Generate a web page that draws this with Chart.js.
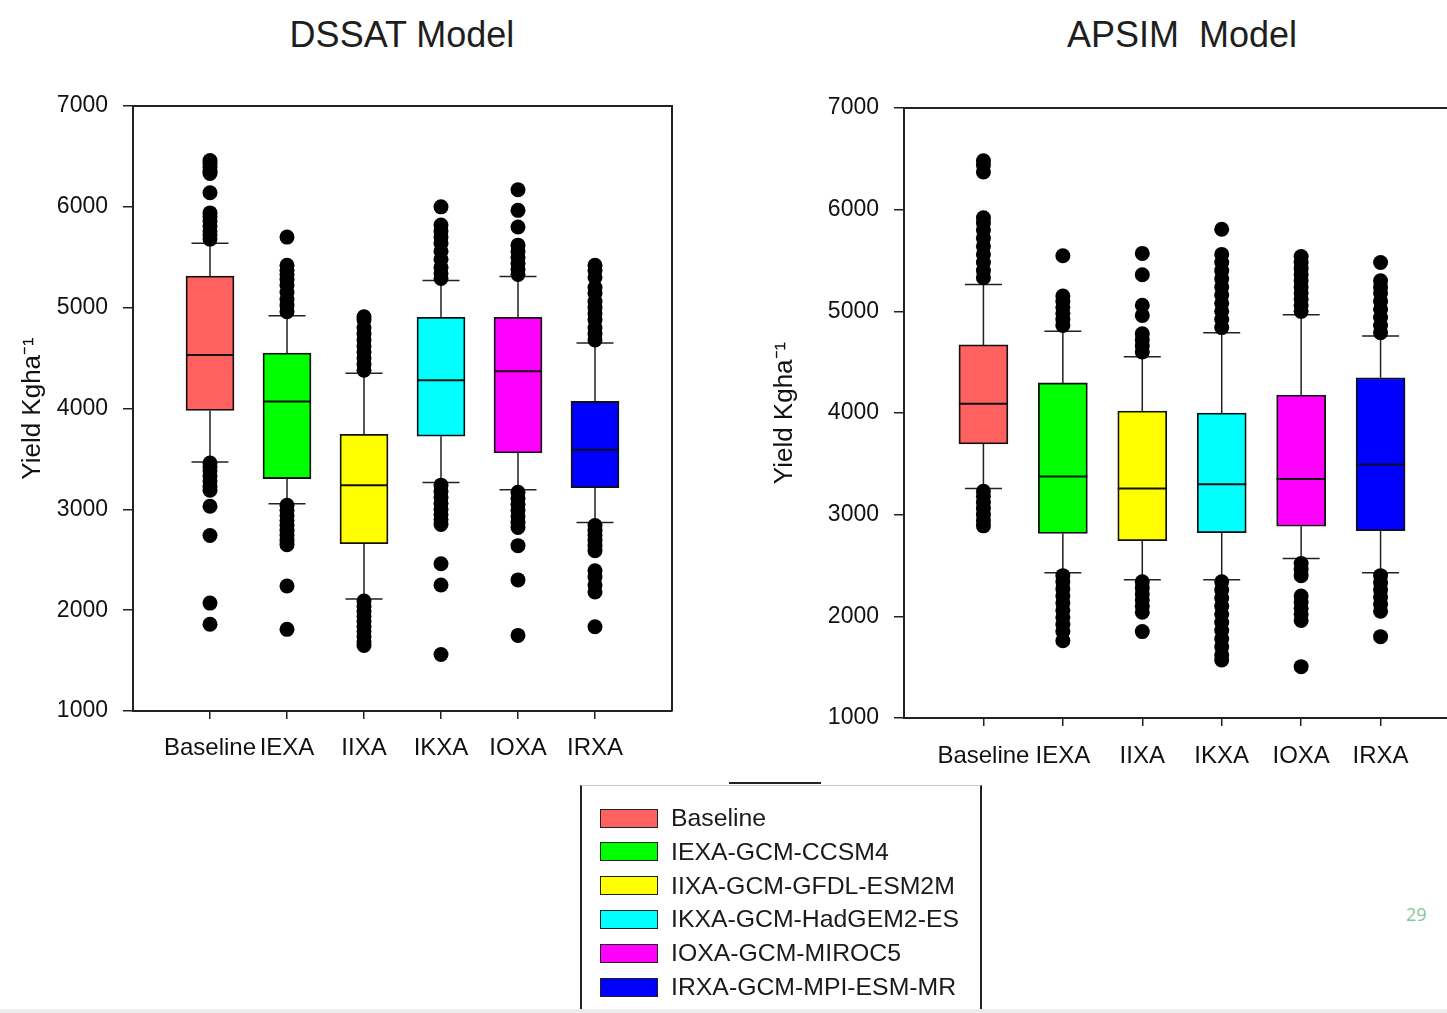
<!DOCTYPE html>
<html>
<head>
<meta charset="utf-8">
<script src="https://cdn.jsdelivr.net/npm/chart.js@4.4.1/dist/chart.umd.min.js"></script>
<style>
  html, body { margin: 0; padding: 0; width: 1447px; height: 1013px; overflow: hidden; background: #fff; }
  body { position: relative; font-family: "Liberation Sans", Arial, sans-serif; color: #1a1a1a; }
  canvas { position: absolute; }
  #dssat { left: 0; top: 60px; }
  #apsim { left: 760px; top: 60px; }
  .title { position: absolute; top: 14px; font-size: 36px; white-space: pre; transform: translateX(-50%); color: #1e1e1e; }
  #legend { position: absolute; left: 580px; top: 785px; width: 398px; height: 240px;
    border-left: 2px solid #222; border-right: 2px solid #222; border-top: 1px solid #c8c8c8; }
  #legend .row { position: absolute; left: 18px; height: 30px; display: flex; align-items: center; font-size: 24.8px; }
  #legend .sw { width: 58px; height: 19px; border: 1.5px solid #222; margin-right: 13px; box-sizing: border-box; }
  #topline { position: absolute; left: 729px; top: 782px; width: 92px; height: 2px; background: #222; }
  #pagenum { position: absolute; left: 1406px; top: 902px; font-family: "Open Sans", sans-serif; font-size: 18px; color: #86c59a; }
  #bottomline { position: absolute; left: 0; top: 1009px; width: 1447px; height: 4px; background: #ececec; }
</style>
</head>
<body>
<div class="title" style="left:402px">DSSAT Model</div>
<div class="title" style="left:1182px">APSIM  Model</div>
<canvas id="dssat" width="700" height="740"></canvas>
<canvas id="apsim" width="730" height="740"></canvas>
<div id="topline"></div>
<div id="legend"></div>
<div id="pagenum">29</div>
<div id="bottomline"></div>

<script>
const categories = ["Baseline", "IEXA", "IIXA", "IKXA", "IOXA", "IRXA"];
const legendLabels = ["Baseline", "IEXA-GCM-CCSM4", "IIXA-GCM-GFDL-ESM2M", "IKXA-GCM-HadGEM2-ES", "IOXA-GCM-MIROC5", "IRXA-GCM-MPI-ESM-MR"];
const boxColors = ["#ff6060", "#00ff00", "#ffff00", "#00ffff", "#ff00ff", "#0000ff"];
const yTicks = [1000, 2000, 3000, 4000, 5000, 6000, 7000];

// DSSAT model
const dssatQ1 = [3980, 3305, 2660, 3725, 3560, 3215];
const dssatMedian = [4530, 4070, 3240, 4280, 4370, 3590];
const dssatQ3 = [5314, 4550, 3745, 4905, 4905, 4070];
const dssatLow = [3470, 3055, 2110, 3265, 3195, 2870];
const dssatHigh = [5640, 4920, 4350, 5270, 5310, 4650];
const dssatOutliers = [
  [6460, 6430, 6390, 6350, 6330, 6140, 5940, 5900, 5860, 5810, 5760, 5720, 5680,
   3460, 3420, 3380, 3330, 3280, 3230, 3190, 3030, 2740, 2070, 1860],
  [5700, 5420, 5370, 5330, 5280, 5220, 5150, 5080, 5020, 4960,
   3040, 2990, 2940, 2890, 2840, 2790, 2740, 2690, 2650, 2240, 1810],
  [4910, 4880, 4800, 4740, 4680, 4620, 4560, 4500, 4440, 4380,
   2090, 2040, 1990, 1940, 1890, 1840, 1790, 1740, 1690, 1650],
  [6000, 5820, 5760, 5700, 5640, 5560, 5480, 5400, 5340, 5290,
   3240, 3180, 3120, 3060, 3000, 2950, 2900, 2850, 2460, 2250, 1560],
  [6170, 5965, 5800, 5620, 5560, 5500, 5440, 5380, 5330,
   3170, 3110, 3050, 2990, 2930, 2870, 2820, 2640, 2300, 1750],
  [5420, 5370, 5300, 5200, 5140, 5060, 5000, 4940, 4880, 4800, 4740, 4680,
   2840, 2790, 2740, 2690, 2640, 2590, 2390, 2330, 2250, 2180, 1835],
];

// APSIM model
const apsimQ1 = [3695, 2815, 2744, 2822, 2886, 2843];
const apsimMedian = [4090, 3376, 3257, 3300, 3352, 3494];
const apsimQ3 = [4670, 4296, 4020, 4000, 4177, 4347];
const apsimLow = [3257, 2428, 2360, 2360, 2570, 2428];
const apsimHigh = [5263, 4805, 4553, 4790, 4967, 4758];
const apsimOutliers = [
  [6480, 6440, 6370, 5920, 5870, 5800, 5720, 5640, 5560, 5480, 5400, 5330,
   3230, 3180, 3120, 3060, 3000, 2940, 2890],
  [5547, 5150, 5100, 5040, 4980, 4920, 4860,
   2400, 2340, 2270, 2200, 2130, 2060, 1990, 1920, 1850, 1760],
  [5570, 5360, 5060, 4960, 4780, 4720, 4660, 4600,
   2340, 2280, 2220, 2160, 2100, 2040, 1850],
  [5808, 5560, 5480, 5400, 5320, 5240, 5160, 5080, 5000, 4920, 4840,
   2340, 2260, 2180, 2100, 2020, 1940, 1860, 1780, 1700, 1620, 1570],
  [5540, 5480, 5420, 5360, 5300, 5240, 5180, 5120, 5060, 5000,
   2520, 2460, 2400, 2200, 2140, 2080, 2020, 1960, 1505],
  [5480, 5300, 5240, 5180, 5100, 5020, 4940, 4860, 4790,
   2400, 2330, 2260, 2190, 2120, 2050, 1800],
];

Chart.defaults.font.family = '"Liberation Sans", Arial, sans-serif';
Chart.defaults.color = "#111";

// whiskers, caps, medians and the plot frame
const boxLines = {
  id: "boxLines",
  beforeDatasetsDraw(chart, args, opts) {
    const { ctx, scales: { x, y } } = chart;
    ctx.save();
    ctx.strokeStyle = "#222";
    ctx.lineWidth = 1.5;
    opts.low.forEach((lo, i) => {
      const px = x.getPixelForValue(i + 1);
      const hw = opts.capWidth / 2;
      [[lo, opts.q1[i]], [opts.high[i], opts.q3[i]]].forEach(([end, edge]) => {
        const pe = y.getPixelForValue(end);
        ctx.beginPath();
        ctx.moveTo(px, y.getPixelForValue(edge));
        ctx.lineTo(px, pe);
        ctx.moveTo(px - hw, pe);
        ctx.lineTo(px + hw, pe);
        ctx.stroke();
      });
    });
    ctx.restore();
  },
  afterDatasetsDraw(chart, args, opts) {
    const { ctx, chartArea: a, scales: { x, y } } = chart;
    ctx.save();
    ctx.strokeStyle = "#111";
    ctx.lineWidth = 2;
    opts.median.forEach((m, i) => {
      const px = x.getPixelForValue(i + 1);
      const py = y.getPixelForValue(m);
      ctx.beginPath();
      ctx.moveTo(px - opts.boxWidth / 2, py);
      ctx.lineTo(px + opts.boxWidth / 2, py);
      ctx.stroke();
    });
    ctx.strokeStyle = "#222";
    ctx.beginPath();
    ctx.moveTo(a.left, a.top);
    ctx.lineTo(a.right, a.top);
    ctx.lineTo(a.right, a.bottom);
    ctx.stroke();
    ctx.restore();
  },
};

function makeChart(id, d, lay) {
  const ctx = document.getElementById(id).getContext("2d");

  let boxes = categories.map((c, i) => ({ x: i + 1, y: [d.q1[i], d.q3[i]] }));
  let points = [];
  d.outliers.forEach((list, i) => list.forEach((v) => points.push({ x: i + 1, y: v })));

  return new Chart(ctx, {
    type: "bar",
    data: {
      datasets: [
        {
          type: "scatter",
          data: points,
          backgroundColor: "#000",
          borderWidth: 0,
          pointRadius: 7.5,
          order: 0,
        },
        {
          data: boxes,
          backgroundColor: boxColors,
          borderColor: "#111",
          borderWidth: 1.8,
          borderSkipped: false,
          barThickness: lay.boxWidth,
          order: 1,
        },
      ],
    },
    options: {
      responsive: false,
      animation: false,
      devicePixelRatio: 1,
      layout: { padding: { top: lay.top, right: lay.right, left: 0, bottom: 0 } },
      plugins: {
        legend: { display: false },
        tooltip: { enabled: false },
        boxLines: {
          q1: d.q1, q3: d.q3, median: d.median, low: d.low, high: d.high,
          boxWidth: lay.boxWidth, capWidth: 37,
        },
      },
      scales: {
        x: {
          type: "linear",
          min: 0,
          max: 7,
          offset: false,
          afterBuildTicks: (s) => { s.ticks = categories.map((c, i) => ({ value: i + 1 })); },
          afterFit: (s) => { s.height = lay.xHeight; },
          ticks: {
            autoSkip: false,
            maxRotation: 0,
            padding: lay.xPad,
            font: { size: 24 },
            callback: (v) => categories[v - 1],
          },
          grid: { offset: false, drawOnChartArea: false, tickLength: 8, color: "#222", lineWidth: 1.5 },
          border: { color: "#222", width: 2 },
        },
        y: {
          min: 1000,
          max: 7000,
          afterBuildTicks: (s) => { s.ticks = yTicks.map((v) => ({ value: v })); },
          afterFit: (s) => { s.width = lay.yWidth; },
          ticks: { padding: 15, font: { size: 23 }, callback: (v) => String(v) },
          grid: { drawOnChartArea: false, tickLength: 10, color: "#222", lineWidth: 1.5 },
          border: { color: "#222", width: 2 },
          title: {
            display: true,
            text: "Yield Kgha\u207B\u00B9",
            font: { size: 26 },
            color: "#111",
            padding: { top: lay.titlePad, bottom: 0 },
          },
        },
      },
    },
    plugins: [boxLines],
  });
}

makeChart("dssat",
  { q1: dssatQ1, median: dssatMedian, q3: dssatQ3, low: dssatLow, high: dssatHigh, outliers: dssatOutliers },
  { top: 46, right: 28, xHeight: 89, yWidth: 133, xPad: 15, titlePad: 17, boxWidth: 48 });

makeChart("apsim",
  { q1: apsimQ1, median: apsimMedian, q3: apsimQ3, low: apsimLow, high: apsimHigh, outliers: apsimOutliers },
  { top: 48, right: 30, xHeight: 82, yWidth: 144, xPad: 16, titlePad: 9, boxWidth: 49 });

// legend
let legend = document.querySelector("#legend");
legendLabels.forEach((label, i) => {
  let row = document.createElement("div");
  row.className = "row";
  row.style.top = (17 + i * 33.8) + "px";
  row.innerHTML = `<span class="sw" style="background:${boxColors[i]}"></span><span>${label}</span>`;
  legend.append(row);
});
</script>
</body>
</html>
